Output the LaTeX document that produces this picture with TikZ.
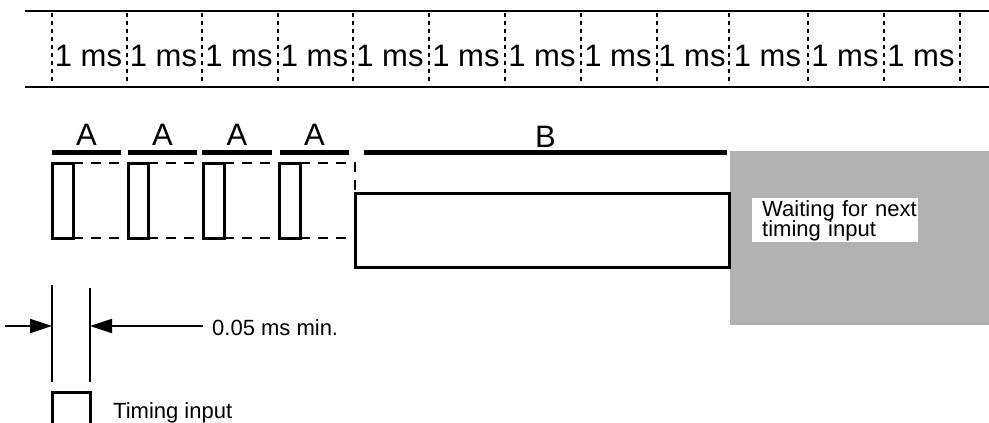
\documentclass[tikz,border=0pt]{standalone}
\usepackage{fontspec}
\setmainfont{Liberation Sans}
\usetikzlibrary{arrows.meta}
\begin{document}
\begin{tikzpicture}[x=1pt,y=-1pt,
  rule/.style={line width=2.4pt},
  divider/.style={line width=2pt,dash pattern=on 4pt off 4pt},
  msl/.style={anchor=base,inner sep=0pt,font=\fontsize{31}{36}\selectfont},
  barlbl/.style={anchor=base,inner sep=0pt,font=\fontsize{31}{36}\selectfont},
  bar/.style={line width=5pt},
  pulse/.style={line width=3pt},
  dashl/.style={line width=2.4pt,dash pattern=on 10pt off 8pt},
  dimline/.style={line width=1.8pt},
  dimarrow/.style={line width=1.8pt,-{Triangle[length=22pt,width=14pt]}},
  smalltxt/.style={inner sep=0pt,font=\fontsize{22}{20.7}\selectfont}
]
\useasboundingbox (0,0) rectangle (989,423);
% top scale
\draw[rule] (25,11) -- (989,11);
\draw[rule] (25,87) -- (989,87);
\foreach \x in {52,127,202,278,353,429,505,581,657,729,808,884,960}
  \draw[divider] (\x,13) -- (\x,84);
\foreach \a/\b [count=\i] in {52/127,127/202,202/278,278/353,353/429,429/505,505/581,581/657,657/729,729/808,808/884,884/960}
  \node[msl] (ms\i) at ({(\a+\b)/2-1},66.5) {1 ms};
% bars
\draw[bar] (52,152) -- (121,152);
\draw[bar] (128,152) -- (197,152);
\draw[bar] (202,152) -- (272,152);
\draw[bar] (280,152) -- (349,152);
\draw[bar] (364,152) -- (727,152);
\node[barlbl] (a1) at (86.5,145.5) {A};
\node[barlbl] (a2) at (162.5,145.5) {A};
\node[barlbl] (a3) at (237,145.5) {A};
\node[barlbl] (a4) at (314.5,145.5) {A};
\node[barlbl] (b) at (545.5,147) {B};
% waiting region
\fill[black!30] (730,151) rectangle (989,325);
\node[fill=white,anchor=north west,inner sep=0pt,minimum width=166pt,minimum height=44pt] (waitbox) at (752,198) {};
\node[smalltxt,anchor=north west,align=left,text width=160pt] (wait) at (762,200)
  {Waiting for next\\timing input};
% pulses
\foreach \l/\r in {52/73,128/148,203/224,279/300}
  \draw[pulse] (\l,163) rectangle (\r,238);
\foreach \l/\r in {73/128,148/203,224/279}{
  \draw[dashl] (\l,163) -- (\r,163);
  \draw[dashl] (\l,238) -- (\r,238);
}
\draw[dashl] (300,163) -- (355,163) -- (355,193);
\draw[dashl] (300,238) -- (355,238);
\draw[pulse] (355,193) rectangle (729,267);
% dimension
\coordinate (vl1) at (52,285);
\coordinate (vl2) at (52,382);
\coordinate (vr1) at (90,288);
\coordinate (vr2) at (90,382);
\draw[dimline] (vl1) -- (vl2);
\draw[dimline] (vr1) -- (vr2);
\coordinate (al) at (5,326);
\coordinate (alt) at (52,326);
\coordinate (ar) at (203,326);
\coordinate (art) at (90,326);
\draw[dimarrow] (al) -- (alt);
\draw[dimarrow] (ar) -- (art);
\node[smalltxt,anchor=base west] (dimtxt) at (212,335) {0.05 ms min.};
% legend
\draw[pulse] (52,424) -- (52,392) -- (90,392) -- (90,424);
\node[smalltxt,anchor=base west] (legend) at (113,418) {Timing input};
\end{tikzpicture}
\end{document}
